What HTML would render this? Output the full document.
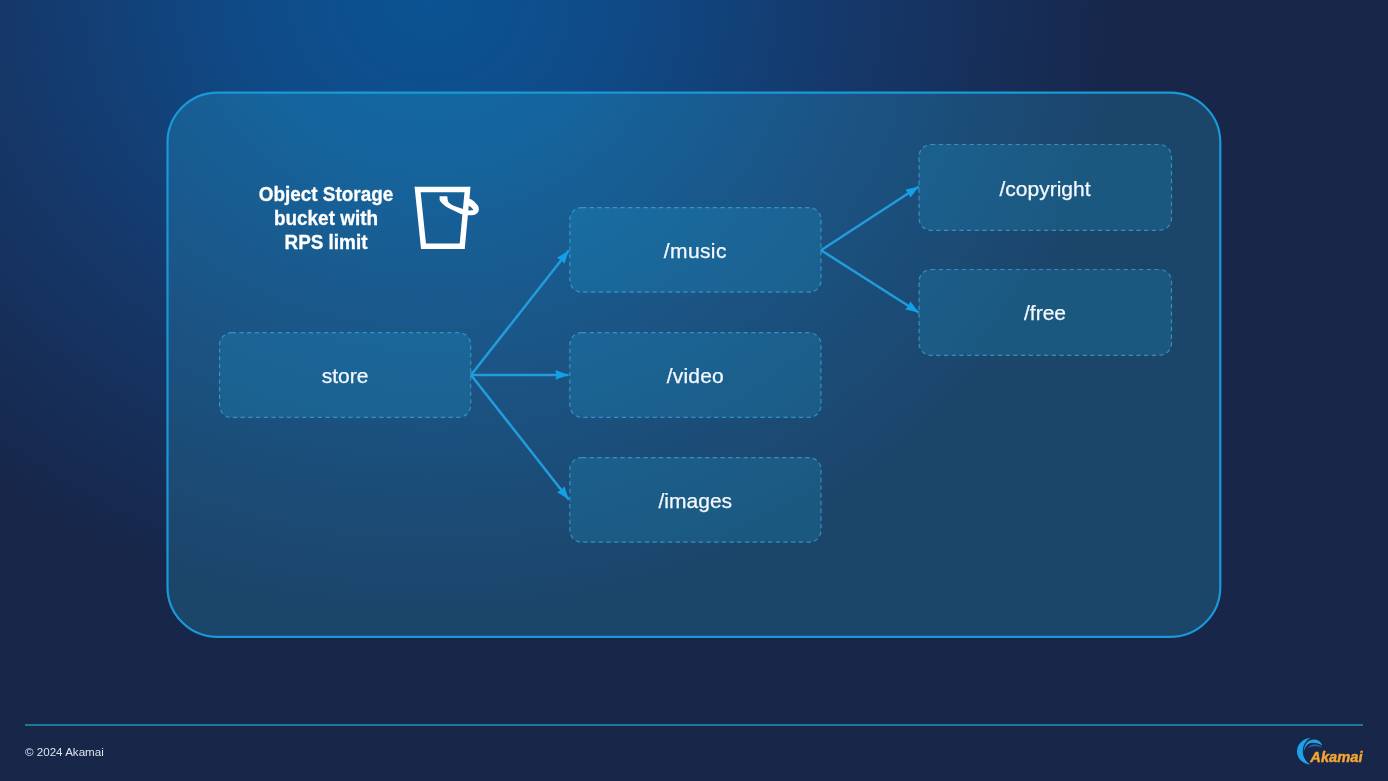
<!DOCTYPE html>
<html><head><meta charset="utf-8">
<style>
html,body{margin:0;padding:0;}
body{width:1388px;height:781px;overflow:hidden;position:relative;
  font-family:"Liberation Sans",sans-serif;background:#172649;}
#bg{position:absolute;left:0;top:0;width:1388px;height:781px;
  background:radial-gradient(ellipse 700px 620px at 430px 0px, #0b5392 0%, #0f4b88 25%, #15386a 60%, #172649 100%);}
svg{position:absolute;left:0;top:0;}
.t{position:absolute;color:#f4f9ff;-webkit-text-stroke:0.25px #f4f9ff;font-size:21px;text-align:center;line-height:24px;white-space:nowrap;}
.lbl{position:absolute;color:#fff;-webkit-text-stroke:0.3px #fff;font-weight:700;font-size:20px;line-height:24px;text-align:center;white-space:nowrap;transform:scaleX(0.945);transform-origin:50% 50%;}
.foot{position:absolute;left:25px;top:745.4px;color:#dde3ef;font-size:11.6px;line-height:14px;white-space:nowrap;}
</style></head>
<body>
<div id="bg"></div>
<svg width="1388" height="781" viewBox="0 0 1388 781">
  <defs>
    <marker id="ah" markerWidth="15" markerHeight="11" refX="13.2" refY="5" orient="auto" markerUnits="userSpaceOnUse">
      <path d="M0,0.2 L13.2,5 L0,9.8 L1,5 Z" fill="#12a0e6"/>
    </marker>
  </defs>
  <!-- container -->
  <rect x="167.5" y="92.7" width="1052.8" height="544.2" rx="50" ry="50" fill="rgb(6,36,46)" style="mix-blend-mode:screen"/>
  <rect x="167.5" y="92.7" width="1052.8" height="544.2" rx="50" ry="50" fill="none" stroke="#1a98d8" stroke-width="2.2"/>
  <!-- boxes -->
  <g fill="rgba(25,180,230,0.18)" stroke="#45a6dc" stroke-opacity="0.7" stroke-width="1.2" stroke-dasharray="4.4 3.3">
    <rect x="219.6" y="332.7" width="251.1" height="84.7" rx="12"/>
    <rect x="569.8" y="207.6" width="251.2" height="84.6" rx="12"/>
    <rect x="569.8" y="332.7" width="251.2" height="84.7" rx="12"/>
    <rect x="569.8" y="457.6" width="251.2" height="84.6" rx="12"/>
    <rect x="919" y="144.5" width="252.5" height="85.8" rx="12"/>
    <rect x="919" y="269.5" width="252.5" height="85.8" rx="12"/>
  </g>
  <!-- arrows -->
  <g stroke="#229cdc" stroke-width="2.5" fill="none" marker-end="url(#ah)">
    <line x1="471" y1="375" x2="568.8" y2="250.5"/>
    <line x1="471" y1="374.9" x2="568.6" y2="374.9"/>
    <line x1="471" y1="375" x2="568.8" y2="499.5"/>
    <line x1="821" y1="250.2" x2="918.8" y2="186.5"/>
    <line x1="821" y1="250.2" x2="918.8" y2="312.5"/>
  </g>
  <!-- bucket icon -->
  <path d="M417.6,189.45 L467.5,189.45 L462.2,246.3 L423.5,246.3 Z" fill="none" stroke="#fff" stroke-width="5.5" stroke-linejoin="miter"/>
  <path d="M439.6,196.3 L447.3,196.3 C447.6,199.5 447.8,201 448.5,202.2 C450.5,204.5 454,206 458,207.3 L463,208.9 L468.5,210.6 C470.5,210.5 472.3,210.3 473.4,210 C472.4,208.2 470.6,206.6 468.4,205.4 L466,204 L466,199 L469.6,198.8 C472,199.8 474,201 475.3,202.7 C477.3,204.5 478.8,206.5 478.8,208.8 C478.8,210.6 478.5,211.8 478,212.3 C476.8,213.8 475.2,214.8 473.4,215 C471.5,215.3 469.7,215.4 468,215.3 L462.6,214.6 C459.5,213.5 457,212 454.2,210.7 C450.5,208.8 447,207.5 444.6,205.4 C442.5,203.8 440.5,202 439.6,200 Z" fill="#fff"/>
  <!-- footer line -->
  <line x1="25" y1="725" x2="1363" y2="725" stroke="#23789a" stroke-width="2"/>
  <!-- akamai logo -->
  <path d="M1310.4,737.7 C1303,738.5 1297,744 1297,751.4 C1297,758.5 1303,764 1310.4,764.5 C1306,762 1302.8,757 1302.8,751.4 C1302.8,745.5 1305.5,740.8 1310.4,737.7 Z" fill="#1ca2ec"/>
  <path d="M1303.9,752 C1303.6,745 1308,739.7 1313.9,739.6 C1317.5,739.6 1320.5,741.5 1321.9,744.5 L1321.7,745.5 C1319.5,743.5 1316,742.6 1312.5,742.7 C1308,743 1304.8,746.5 1303.9,752 Z" fill="#2a9ddb"/>
  <path d="M1307.2,748.8 C1309.5,745.5 1312,744.3 1314.5,744.3 C1317.5,744.3 1320,745.4 1321.5,746.6 L1321.3,747.5 C1319.5,746.6 1317,746.2 1314.5,746.3 C1311.5,746.4 1309,747.3 1307.2,748.8 Z" fill="#1f60b2"/>
  <text x="1310.3" y="761.7" font-family="Liberation Sans" font-weight="700" font-style="italic" font-size="14.7" fill="#f6a631" stroke="#f6a631" stroke-width="0.4">Akamai</text>
</svg>
<div class="lbl" style="left:246px;top:182px;width:160px;">Object Storage<br>bucket with<br>RPS limit</div>
<div class="t" style="left:219.6px;top:364.3px;width:251px;">store</div>
<div class="t" style="left:569.8px;top:239.4px;width:251px;letter-spacing:0.4px;">/music</div>
<div class="t" style="left:569.8px;top:364.4px;width:251px;letter-spacing:0.2px;">/video</div>
<div class="t" style="left:569.8px;top:489.3px;width:251px;">/images</div>
<div class="t" style="left:919px;top:177.0px;width:252px;">/copyright</div>
<div class="t" style="left:919px;top:301.4px;width:252px;">/free</div>
<div class="foot">© 2024 Akamai</div>
</body></html>
